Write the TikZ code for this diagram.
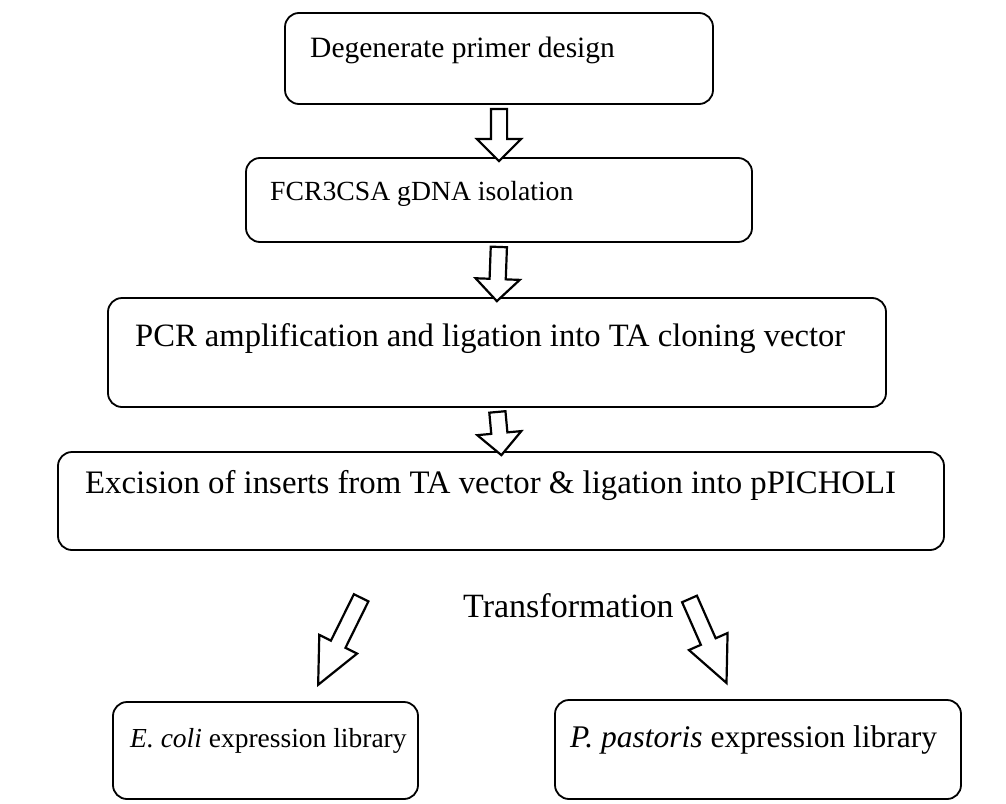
\documentclass[tikz,border=0pt]{standalone}
\usepackage{fontspec}
\setmainfont{Liberation Serif}
\usetikzlibrary{shapes.arrows,calc}

% hollow block arrow between two points: style, name, start, end
\newcommand{\blockarrow}[4]{%
  \path let \p1=(#3), \p2=(#4),
        \n1={atan2(\y2-\y1,\x2-\x1)}, \n2={veclen(\x2-\x1,\y2-\y1)} in
        node[#1, minimum height=\n2, rotate=\n1] (#2) at ($(\p1)!0.5!(\p2)$) {};}

\begin{document}
\begin{tikzpicture}[x=1pt,y=-1pt,
    stepbox/.style={draw, line width=1.8pt, rounded corners=14pt, inner sep=0pt},
    label/.style={anchor=base west, inner sep=0pt, font=\fontsize{#1}{36}\selectfont},
    hollowarrow/.style={single arrow, draw, fill=white, line width=2.2pt,
        inner sep=7pt, single arrow head extend=14pt, single arrow tip angle=90,
        single arrow head indent=0pt},
    slimarrow/.style={hollowarrow, single arrow head extend=13pt, single arrow tip angle=50}]
  \useasboundingbox (0,0) rectangle (1006,803);

  % process boxes
  \node[stepbox, minimum width=428pt, minimum height=91pt] (b1) at (499,58.5) {};
  \node[stepbox, minimum width=506pt, minimum height=84pt] (b2) at (499,200) {};
  \node[stepbox, minimum width=778pt, minimum height=109pt] (b3) at (497,352.5) {};
  \node[stepbox, minimum width=886pt, minimum height=98pt] (b4) at (501,501) {};
  \node[stepbox, minimum width=305pt, minimum height=97pt] (b5) at (265.5,750.5) {};
  \node[stepbox, minimum width=406pt, minimum height=99pt] (b6) at (758,749.5) {};

  % box texts
  \node[label=29.5] (t1) at (310,57) {Degenerate primer design};
  \node[label=27.7] (t2) at (270,200) {FCR3CSA gDNA isolation};
  \node[label=32.6] (t3) at (135,346) {PCR amplification and ligation into TA cloning vector};
  \node[label=32.8] (t4) at (85,493) {Excision of inserts from TA vector \& ligation into pPICHOLI};
  \node[label=27.5] (t5) at (130,747) {\textit{E. coli} expression library};
  \node[label=31.5] (t6) at (570,747) {\textit{P. pastoris} expression library};
  \node[label=34] (tr) at (463,617) {Transformation};

  % arrows between the steps
  \blockarrow{hollowarrow}{a1}{b1.south}{b2.north}
  \blockarrow{hollowarrow}{a2}{b2.south}{b3.north}
  \blockarrow{hollowarrow}{a3}{b3.south}{b4.north}

  % branching arrows
  \coordinate (d1s) at (365,590);
  \coordinate (d1e) at (322,677);
  \coordinate (d2s) at (686,591);
  \coordinate (d2e) at (723,675);
  \blockarrow{slimarrow}{a4}{d1s}{d1e}
  \blockarrow{slimarrow}{a5}{d2s}{d2e}
\end{tikzpicture}
\end{document}
